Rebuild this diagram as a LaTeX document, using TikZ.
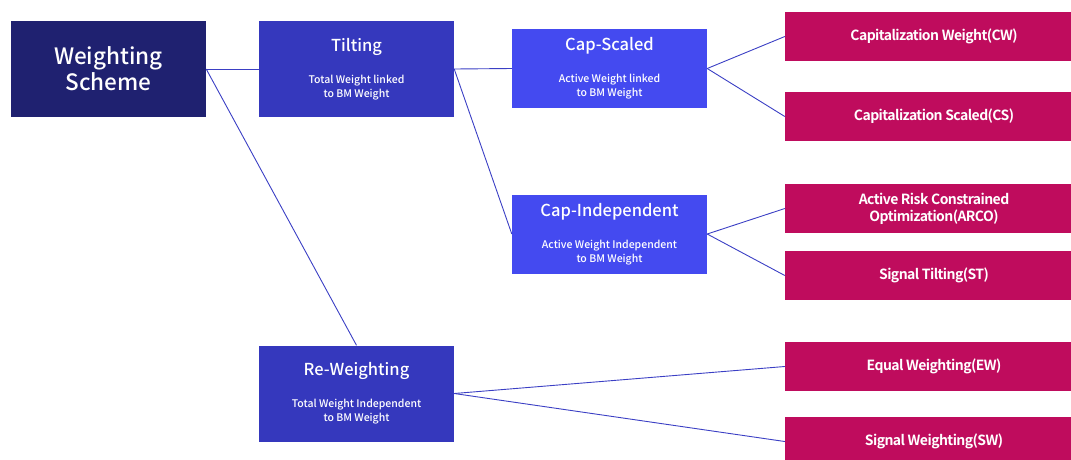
\documentclass[tikz,border=0pt]{standalone}
\usepackage{fontspec}
\setmainfont{Noto Sans CJK KR}
\newfontfamily\medfont{Noto Sans CJK KR Medium}
\newfontfamily\leaffont[LetterSpace=-4]{Noto Sans CJK KR Bold}
\usepackage{tikz}

\definecolor{rootblue}{HTML}{1F2170}
\definecolor{midblue}{HTML}{3538BD}
\definecolor{capblue}{HTML}{444AF0}
\definecolor{leafred}{HTML}{BF0C5D}
\definecolor{linkblue}{HTML}{3B3FC4}

\newcommand{\boxtext}[2]{{\fontsize{16.5}{20}\selectfont #1}\\[18pt]#2}

\begin{document}
\begin{tikzpicture}[x=1pt,y=-1pt,
  every node/.style={inner sep=0pt,text=white,align=center},
  rootbox/.style={fill=rootblue,minimum width=195pt,minimum height=96pt,font=\medfont\fontsize{22.5}{26}\selectfont},
  midbox/.style={fill=midblue,minimum width=195pt,minimum height=96pt,font=\medfont\fontsize{10.5}{14}\selectfont},
  capbox/.style={fill=capblue,minimum width=195pt,minimum height=79pt,font=\medfont\fontsize{10.5}{14}\selectfont},
  leafbox/.style={fill=leafred,minimum width=298pt,minimum height=49pt,font=\leaffont\fontsize{14}{17}\selectfont},
  link/.style={draw=linkblue,line width=0.9pt}]
  \clip (0,0) rectangle (1071,459);
  %root
  \node[rootbox] (ws) at (108.5,69) {Weighting\\Scheme};
  %tilting branch
  \node[midbox] (tl) at (356.5,69) {\boxtext{Tilting}{Total Weight linked\\to BM Weight}};
  \node[capbox] (cs) at (609.5,68.5) {\boxtext{Cap-Scaled}{Active Weight linked\\to BM Weight}};
  \node[capbox] (ci) at (609.5,234) {\boxtext{Cap-Independent}{Active Weight Independent\\to BM Weight}};
  %re-weighting branch
  \node[midbox] (rw) at (356.5,393.5) {\boxtext{Re-Weighting}{Total Weight Independent\\to BM Weight}};
  %leaves
  \node[leafbox] (cw) at (934,36.5) {Capitalization Weight(CW)};
  \node[leafbox] (csc) at (934,116.5) {Capitalization Scaled(CS)};
  \node[leafbox] (arco) at (934,208.5) {Active Risk Constrained\\Optimization(ARCO)};
  \node[leafbox] (st) at (934,275.5) {Signal Tilting(ST)};
  \node[leafbox] (ew) at (934,366.5) {Equal Weighting(EW)};
  \node[leafbox] (sw) at (934,441.5) {Signal Weighting(SW)};
  %links
  \draw[link] (ws.east) -- (tl.west);
  \draw[link] (ws.east) -- (rw.north);
  \draw[link] (tl.east) -- (cs.west);
  \draw[link] (tl.east) -- (ci.west);
  \draw[link] (cs.east) -- (cw.west);
  \draw[link] (cs.east) -- (csc.west);
  \draw[link] (ci.east) -- (arco.west);
  \draw[link] (ci.east) -- (st.west);
  \draw[link] (rw.east) -- (ew.west);
  \draw[link] (rw.east) -- (sw.west);
\end{tikzpicture}
\end{document}
